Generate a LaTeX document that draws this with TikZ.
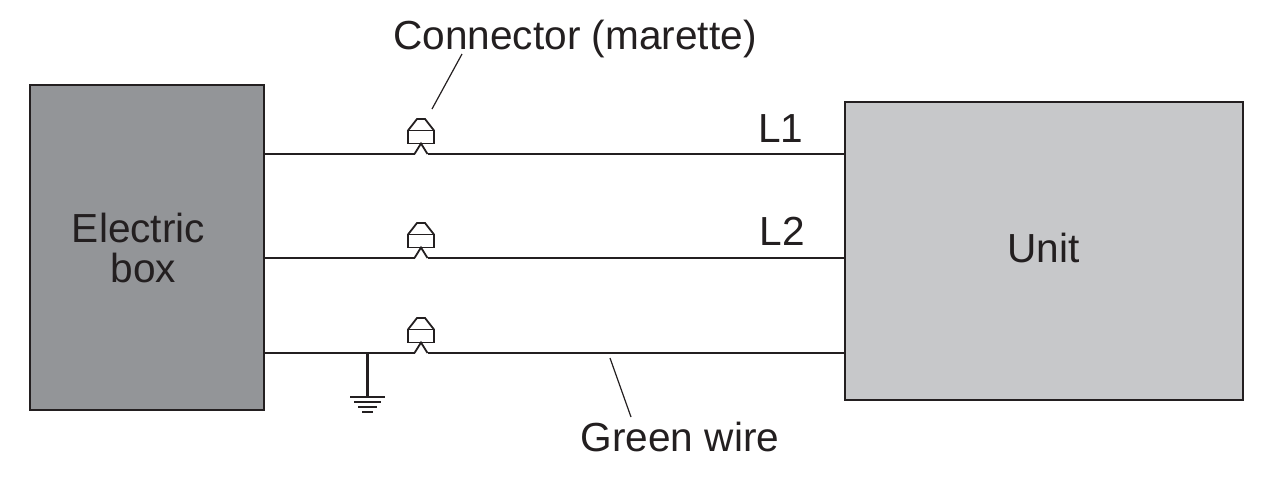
\documentclass[tikz,border=0pt]{standalone}
\usepackage{fontspec}
\setmainfont{Liberation Sans}
\definecolor{ink}{HTML}{231F20}
\definecolor{boxdark}{HTML}{939598}
\definecolor{boxlight}{HTML}{C7C8CA}
\tikzset{
  txt/.style={text=ink,font=\fontsize{20.3}{20}\selectfont,inner sep=0pt,align=center},
  box/.style={draw=ink,line width=0.75pt,inner sep=0pt},
  wire/.style={draw=ink,line width=0.9pt},
  leader/.style={draw=ink,line width=0.6pt},
  earth/.style={draw=ink,line width=1.4pt},
  marette/.pic={
    \draw[wire,line join=miter] (-6.5,0) coordinate (-l) -- (0,-10.5) -- (6.5,0) coordinate (-r);
    \draw[wire] (-13,-10.5) rectangle (13,-23.5);
    \draw[wire] (-13,-23.5) -- (-4,-35) -- (4,-35) -- (13,-23.5);
  }
}
\begin{document}
\begin{tikzpicture}[x=0.5pt,y=-0.5pt]
\useasboundingbox (0,0) rectangle (1266,477);

% boxes
\node[box,fill=boxdark,minimum width=117pt,minimum height=162.5pt] (ebox) at (147,247.5) {};
\node[box,fill=boxlight,minimum width=199pt,minimum height=149pt,txt,text depth=0pt] (unit) at (1044,251) {};
\node[txt] (ulabel) at (1043.5,248) {Unit};
\node[txt] (elabel) at (138.5,248) {Electric\\\hspace*{5pt}box};

% wire ends
\coordinate (a1) at (ebox.east |- 0,154);
\coordinate (b1) at (unit.west |- 0,154);
\coordinate (a2) at (ebox.east |- 0,258);
\coordinate (b2) at (unit.west |- 0,258);
\coordinate (a3) at (ebox.east |- 0,353);
\coordinate (b3) at (unit.west |- 0,353);

% connectors on the wires
\pic (m1) at (421,154) {marette};
\pic (m2) at (421,258) {marette};
\pic (m3) at (421,353) {marette};
\draw[wire] (a1) -- (m1-l) (m1-r) -- (b1);
\draw[wire] (a2) -- (m2-l) (m2-r) -- (b2);
\draw[wire] (a3) -- (m3-l) (m3-r) -- (b3);

% wire labels
\node[txt] (l1) at (781,129) {L1};
\node[txt] (l2) at (782.5,231) {L2};

% ground
\coordinate (gtop) at (367.5,353);
\coordinate (gbot) at (367.5,397);
\draw[earth] (gtop) -- (gbot);
\draw[earth] (350,397) -- (385,397);
\draw[earth] (354,402) -- (381,402);
\draw[earth] (358,407) -- (377,407);
\draw[earth] (362,412) -- (373,412);

% callouts
\node[txt] (conn) at (575,39) {Connector (marette)};
\coordinate (conntip) at (432,109);
\draw[leader] (462,54) -- (conntip);
\node[txt] (green) at (680,437) {Green wire};
\coordinate (greentip) at (610,358);
\draw[leader] (greentip) -- (631,417);
\end{tikzpicture}
\end{document}
